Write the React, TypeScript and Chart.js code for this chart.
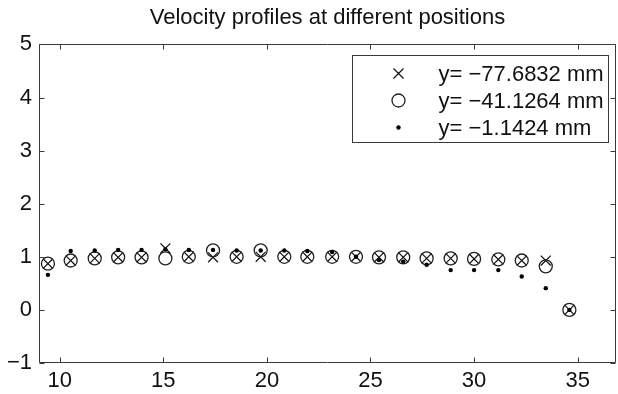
import React, { useEffect, useRef } from 'react';
import { Chart, registerables } from 'chart.js';

Chart.register(...registerables);

const titleText = 'Velocity profiles at different positions';
const seriesLabels = ['y= \u221277.6832 mm', 'y= \u221241.1264 mm', 'y= \u22121.1424 mm'];

const positions = [9.43, 10.53, 11.69, 12.82, 13.95, 15.1, 16.23, 17.4, 18.54, 19.7, 20.84, 21.95, 23.15, 24.3, 25.41, 26.58, 27.71, 28.87, 30.0, 31.17, 32.3, 33.46, 34.6];
const crossVals = [0.87, 0.93, 0.97, 0.99, 0.99, 1.16, 1.0, 0.99, 1.0, 1.0, 1.0, 1.0, 1.0, 1.0, 0.99, 0.99, 0.97, 0.97, 0.96, 0.95, 0.93, 0.93, 0.0];
const circleVals = [0.87, 0.93, 0.97, 0.99, 0.99, 0.97, 1.0, 1.12, 1.0, 1.12, 1.0, 1.0, 1.0, 1.0, 0.99, 0.99, 0.97, 0.97, 0.96, 0.95, 0.93, 0.82, 0.0];
const dotVals = [0.66, 1.11, 1.12, 1.13, 1.13, 1.14, 1.13, 1.13, 1.12, 1.12, 1.12, 1.11, 1.09, 1.0, 0.94, 0.91, 0.85, 0.75, 0.75, 0.75, 0.63, 0.41, 0.0];

const xTicks = [10, 15, 20, 25, 30, 35];
const yTicks = [-1, 0, 1, 2, 3, 4, 5];
const xMin = 9;
const xMax = 36.85;
const yMin = -1;
const yMax = 5;

const FONT = "'Liberation Sans', Arial, Helvetica, sans-serif";
const INK = '#111';

function drawMarker(ctx: CanvasRenderingContext2D, kind: number, x: number, y: number) {
  ctx.save();
  if (kind === 0) {
    const h = 5;
    ctx.strokeStyle = '#111';
    ctx.lineWidth = 1.2;
    ctx.beginPath();
    ctx.moveTo(x - h, y - h);
    ctx.lineTo(x + h, y + h);
    ctx.moveTo(x - h, y + h);
    ctx.lineTo(x + h, y - h);
    ctx.stroke();
  } else if (kind === 1) {
    ctx.strokeStyle = '#222';
    ctx.lineWidth = 1.3;
    ctx.beginPath();
    ctx.arc(x, y, 6.5, 0, Math.PI * 2);
    ctx.stroke();
  } else {
    ctx.fillStyle = '#000';
    ctx.beginPath();
    ctx.arc(x, y, 2.2, 0, Math.PI * 2);
    ctx.fill();
  }
  ctx.restore();
}

const frameAndLegend = {
  id: 'frameAndLegend',
  afterDatasetsDraw(chart: any) {
    const { ctx, chartArea, scales } = chart;
    const { left, right, top, bottom } = chartArea;
    const L = Math.round(left) + 0.5;
    const R = Math.round(right) - 0.5;
    const T = Math.round(top) + 0.5;
    const B = Math.round(bottom) - 0.5;
    ctx.save();
    ctx.strokeStyle = '#3a3a3a';
    ctx.lineWidth = 1;
    ctx.beginPath();
    ctx.rect(L, T, R - L, B - T);
    ctx.stroke();
    const tl = 5;
    ctx.beginPath();
    for (const v of xTicks) {
      const px = Math.round(scales.x.getPixelForValue(v)) + 0.5;
      ctx.moveTo(px, B);
      ctx.lineTo(px, B - tl);
      ctx.moveTo(px, T);
      ctx.lineTo(px, T + tl);
    }
    for (const v of yTicks) {
      const py = Math.round(scales.y.getPixelForValue(v)) + 0.5;
      ctx.moveTo(L, py);
      ctx.lineTo(L + tl, py);
      ctx.moveTo(R, py);
      ctx.lineTo(R - tl, py);
    }
    ctx.stroke();

    // legend box
    const bw = 256;
    const bh = 87;
    const bx = Math.round(right) - 8 - bw + 0.5;
    const by = Math.round(top) + 11 + 0.5;
    ctx.fillStyle = '#fff';
    ctx.fillRect(bx, by, bw, bh);
    ctx.strokeStyle = '#3a3a3a';
    ctx.strokeRect(bx, by, bw, bh);
    ctx.font = `22px ${FONT}`;
    ctx.fillStyle = INK;
    ctx.textAlign = 'left';
    ctx.textBaseline = 'middle';
    seriesLabels.forEach((lab, i) => {
      const ry = by + 18 + i * 27;
      drawMarker(ctx, i, bx + 46, ry);
      ctx.fillText(lab, bx + 86, ry + 1);
    });
    ctx.restore();
  },
};

export default function App() {
  const ref = useRef<HTMLCanvasElement | null>(null);

  useEffect(() => {
    if (!ref.current) return;
    const chart = new Chart(ref.current, {
      type: 'scatter',
      data: {
        datasets: [
          {
            label: seriesLabels[0],
            data: positions.map((x, i) => ({ x, y: crossVals[i] })),
            pointStyle: 'crossRot',
            pointRadius: 7,
            borderColor: '#111',
            backgroundColor: 'rgba(0,0,0,0)',
            borderWidth: 1.2,
            order: 3,
          },
          {
            label: seriesLabels[1],
            data: positions.map((x, i) => ({ x, y: circleVals[i] })),
            pointStyle: 'circle',
            pointRadius: 6.5,
            borderColor: '#222',
            backgroundColor: 'rgba(0,0,0,0)',
            borderWidth: 1.3,
            order: 2,
          },
          {
            label: seriesLabels[2],
            data: positions.map((x, i) => ({ x, y: dotVals[i] })),
            pointStyle: 'circle',
            pointRadius: 2.2,
            borderWidth: 0,
            borderColor: '#000',
            backgroundColor: '#000',
            order: 1,
          },
        ],
      },
      options: {
        animation: false,
        responsive: false,
        events: [],
        layout: { autoPadding: false, padding: { left: 0, right: 2, top: 0, bottom: 0 } },
        font: { family: FONT },
        plugins: {
          legend: { display: false },
          tooltip: { enabled: false },
          title: {
            display: true,
            text: titleText,
            fullSize: false,
            color: INK,
            font: { family: FONT, size: 22, weight: 'normal', lineHeight: 1.2 },
            padding: { top: 5, bottom: 13 },
          },
        },
        scales: {
          x: {
            type: 'linear',
            min: xMin,
            max: xMax,
            afterBuildTicks: (s: any) => {
              s.ticks = xTicks.map((v) => ({ value: v }));
            },
            afterFit: (s: any) => {
              s.height = 31;
              s.paddingLeft = 0;
              s.paddingRight = 0;
            },
            grid: { display: false, drawTicks: false },
            border: { display: false },
            ticks: {
              color: INK,
              font: { family: FONT, size: 22 },
              padding: 5,
              maxRotation: 0,
              autoSkip: false,
            },
          },
          y: {
            type: 'linear',
            min: yMin,
            max: yMax,
            afterBuildTicks: (s: any) => {
              s.ticks = yTicks.map((v) => ({ value: v }));
            },
            afterFit: (s: any) => {
              s.width = 39;
              s.paddingTop = 0;
              s.paddingBottom = 0;
            },
            grid: { display: false, drawTicks: false },
            border: { display: false },
            ticks: {
              color: INK,
              font: { family: FONT, size: 22 },
              padding: 7,
              autoSkip: false,
              callback: (v: any) => String(v).replace('-', '\u2212'),
            },
          },
        },
      },
      plugins: [frameAndLegend],
    } as any);
    return () => chart.destroy();
  }, []);

  return (
    <div style={{ position: 'absolute', left: 0, top: 0, width: 618, height: 394, background: '#fff' }}>
      <canvas ref={ref} width={618} height={394} style={{ width: 618, height: 394, display: 'block' }} />
    </div>
  );
}
